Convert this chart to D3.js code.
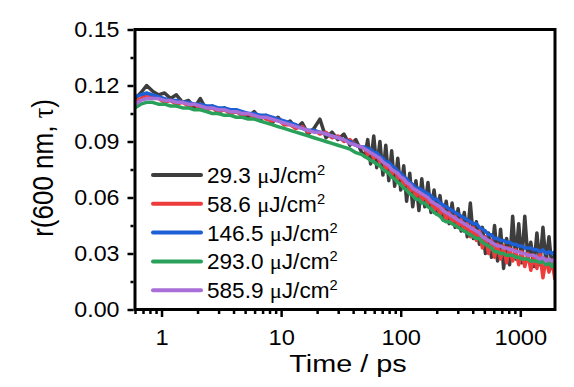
<!DOCTYPE html>
<html><head><meta charset="utf-8">
<script src="https://cdn.jsdelivr.net/npm/d3@7"></script>
<style>body{margin:0;background:#fff}svg{display:block}</style>
</head><body><svg id="c" width="574" height="387"></svg>
<script>
const times = [0.6,0.67,0.75,0.84,0.94,1.06,1.19,1.33,1.5,1.68,1.88,2.11,2.37,2.66,2.98,3.35,3.76,4.22,4.73,5.31,5.96,6.68,7.5,8.4,9.4,10.6,11.9,13.3,15,16.8,18.8,21.1,23.7,26.6,29.8,33.5,37.6,42.2,47.3,
 50,53,56,59.5,63,67,71,75,79.5,84,89,94.5,100,106,112,119,126,134,142,150,159,169,179,190,201,213,226,240,254,269,285,302,320,340,360,382,405,429,455,482,511,542,574,609,645,684,725,768,814,863,915,970,1028,1090,1155,1224,1298,1376,1458,1546,1638,1737,1841,1950];
const s29 = [0.113,0.116,0.120,0.117,0.115,0.116,0.113,0.115,0.111,0.112,0.108,0.113,0.107,0.109,0.105,0.108,0.105,0.106,0.104,0.103,0.106,0.102,0.104,0.100,0.103,0.099,0.101,0.097,0.100,0.094,0.097,0.102,0.092,0.095,0.091,0.094,0.088,0.091,0.084,
 0.082,0.091,0.078,0.093,0.076,0.090,0.072,0.088,0.069,0.085,0.066,0.081,0.064,0.077,0.058,0.073,0.055,0.069,0.053,0.070,0.055,0.068,0.052,0.064,0.051,0.061,0.048,0.058,0.046,0.057,0.044,0.054,0.042,0.052,0.039,0.057,0.038,0.047,0.035,0.044,0.030,0.041,0.028,0.045,0.026,0.043,0.022,0.038,0.024,0.050,0.027,0.046,0.025,0.050,0.028,0.036,0.023,0.041,0.024,0.044,0.025,0.039,0.022,0.030];
const s58 = [0.111,0.113,0.115,0.114,0.113,0.111,0.112,0.110,0.111,0.109,0.110,0.108,0.107,0.108,0.106,0.107,0.105,0.106,0.104,0.105,0.103,0.104,0.102,0.101,0.102,0.099,0.099,0.097,0.098,0.095,0.096,0.094,0.095,0.092,0.093,0.090,0.091,0.088,0.087,
 0.086,0.083,0.085,0.081,0.083,0.079,0.081,0.075,0.078,0.072,0.076,0.070,0.072,0.066,0.069,0.063,0.066,0.060,0.064,0.058,0.061,0.057,0.058,0.053,0.056,0.051,0.054,0.048,0.052,0.046,0.050,0.044,0.048,0.042,0.046,0.039,0.044,0.037,0.042,0.033,0.039,0.030,0.037,0.028,0.035,0.027,0.034,0.025,0.033,0.026,0.032,0.024,0.031,0.023,0.030,0.021,0.029,0.022,0.030,0.017,0.027,0.020,0.026,0.016];
const s146 = [0.114,0.115,0.116,0.115,0.114,0.113,0.112,0.112,0.111,0.111,0.110,0.110,0.109,0.109,0.108,0.108,0.107,0.107,0.106,0.105,0.105,0.104,0.104,0.103,0.102,0.101,0.100,0.099,0.097,0.096,0.096,0.095,0.094,0.093,0.092,0.091,0.090,0.088,0.087,
 0.087,0.086,0.086,0.084,0.084,0.082,0.081,0.079,0.079,0.077,0.076,0.074,0.073,0.071,0.070,0.068,0.067,0.065,0.065,0.064,0.063,0.062,0.061,0.059,0.059,0.057,0.056,0.055,0.054,0.053,0.052,0.051,0.050,0.049,0.048,0.047,0.046,0.046,0.044,0.043,0.042,0.040,0.040,0.038,0.038,0.037,0.037,0.036,0.036,0.035,0.035,0.034,0.034,0.033,0.033,0.033,0.032,0.032,0.031,0.032,0.030,0.031,0.030,0.031];
const s293 = [0.108,0.110,0.111,0.111,0.110,0.110,0.109,0.109,0.108,0.108,0.107,0.107,0.106,0.105,0.105,0.104,0.104,0.103,0.103,0.102,0.102,0.101,0.100,0.099,0.098,0.097,0.096,0.095,0.094,0.093,0.092,0.091,0.090,0.089,0.088,0.087,0.086,0.084,0.083,
 0.082,0.081,0.080,0.079,0.078,0.077,0.075,0.074,0.073,0.071,0.070,0.068,0.067,0.065,0.064,0.062,0.061,0.059,0.059,0.057,0.057,0.055,0.054,0.052,0.051,0.050,0.048,0.047,0.047,0.046,0.045,0.044,0.043,0.042,0.041,0.040,0.039,0.038,0.038,0.036,0.035,0.034,0.033,0.031,0.031,0.030,0.030,0.029,0.029,0.029,0.028,0.028,0.027,0.027,0.027,0.026,0.026,0.026,0.025,0.026,0.024,0.025,0.023,0.025];
const s585 = [0.110,0.112,0.113,0.113,0.113,0.112,0.112,0.111,0.111,0.110,0.110,0.109,0.108,0.108,0.107,0.107,0.106,0.106,0.105,0.105,0.104,0.103,0.103,0.102,0.101,0.100,0.099,0.098,0.097,0.096,0.095,0.095,0.094,0.093,0.092,0.091,0.089,0.088,0.087,
 0.086,0.085,0.084,0.083,0.082,0.081,0.079,0.078,0.077,0.075,0.074,0.073,0.071,0.070,0.068,0.067,0.065,0.064,0.063,0.062,0.061,0.060,0.058,0.057,0.056,0.055,0.053,0.052,0.051,0.050,0.049,0.048,0.047,0.046,0.045,0.044,0.043,0.042,0.041,0.039,0.038,0.037,0.036,0.035,0.034,0.034,0.033,0.033,0.032,0.032,0.031,0.031,0.030,0.030,0.029,0.029,0.029,0.028,0.027,0.028,0.026,0.027,0.026,0.027];
const legendLabels = ["29.3","58.6","146.5","293.0","585.9"];
const colors = ["#3d3d3d","#ee3b3b","#1d5fd6","#2aa15b","#a86fd8"];
const xTicks = [1,10,100,1000];
const xMinor = [0.6,0.7,0.8,0.9,2,3,4,5,6,7,8,9,20,30,40,50,60,70,80,90,200,300,400,500,600,700,800,900];
const yTicks = [0,0.03,0.06,0.09,0.12,0.15];
const yMinor = [0.015,0.045,0.075,0.105,0.135];
const seriesValues = [s29,s58,s146,s293,s585];

const svg = d3.select("#c");
const L=135,R=555,T=29.5,B=309.5;
const x = d3.scaleLog().domain([0.6,1950]).range([L,R]);
const y = d3.scaleLinear().domain([0,0.15]).range([B,T]);
const F = "'Liberation Sans', Arial, sans-serif";

svg.append("defs").append("clipPath").attr("id","clip").append("rect")
  .attr("x",L).attr("y",T).attr("width",R-L).attr("height",B-T);

const line = d3.line().x(d=>x(d[0])).y(d=>y(d[1]));
const plot = svg.append("g").attr("clip-path","url(#clip)");
seriesValues.forEach((vals,i)=>{
  plot.append("path").datum(times.map((t,j)=>[t,vals[j]]))
    .attr("d",line).attr("fill","none").attr("stroke",colors[i])
    .attr("stroke-width",3.5).attr("stroke-linejoin","round");
});

function styleAxis(g){
  g.select(".domain").remove();
  g.selectAll(".tick line").attr("stroke","#000").attr("stroke-width",2.5);
}
function stretch(g,sx){
  g.selectAll(".tick text").each(function(){
    const t=d3.select(this); const xx=+t.attr("x")||0; const yy=+t.attr("y")||0;
    t.attr("x",0).attr("y",0).attr("transform",`translate(${xx},${yy}) scale(${sx},1)`);
  });
}
const gx = svg.append("g").attr("transform",`translate(0,${B+1.5})`)
  .call(d3.axisBottom(x).tickValues(xTicks).tickFormat(d3.format("d")).tickSize(6).tickPadding(13));
styleAxis(gx);
gx.selectAll("text").attr("font-family",F).attr("font-size",21.5).attr("fill","#000");
stretch(gx,1.1);
const gxm = svg.append("g").attr("transform",`translate(0,${B+1.5})`)
  .call(d3.axisBottom(x).tickValues(xMinor).tickFormat("").tickSize(3));
styleAxis(gxm);

const gy = svg.append("g").attr("transform",`translate(${L-1.5},0)`)
  .call(d3.axisLeft(y).tickValues(yTicks).tickFormat(d3.format(".2f")).tickSize(6).tickPadding(8));
styleAxis(gy);
gy.selectAll("text").attr("font-family",F).attr("font-size",21.5).attr("fill","#000");
stretch(gy,1.08);
const gym = svg.append("g").attr("transform",`translate(${L-1.5},0)`)
  .call(d3.axisLeft(y).tickValues(yMinor).tickFormat("").tickSize(3));
styleAxis(gym);

svg.append("rect").attr("x",L).attr("y",T).attr("width",R-L).attr("height",B-T)
  .attr("fill","none").attr("stroke","#000").attr("stroke-width",3);

svg.append("text").attr("transform","translate(348,372) scale(1.2,1)")
  .attr("text-anchor","middle").attr("font-family",F).attr("font-size",24).text("Time / ps");

const yl = svg.append("text").attr("transform","translate(53,168) rotate(-90) scale(1,1.1)")
  .attr("text-anchor","middle").attr("font-family",F).attr("font-size",26);
yl.append("tspan").text("r(600 nm, ");
yl.append("tspan").attr("font-family","'Liberation Serif', serif").text("τ");
yl.append("tspan").text(")");

const leg = svg.append("g");
legendLabels.forEach((lab,i)=>{
  const yy = 175 + i*28.8;
  leg.append("line").attr("x1",153).attr("x2",201).attr("y1",yy).attr("y2",yy)
    .attr("stroke",colors[i]).attr("stroke-width",4).attr("stroke-linecap","round");
  const t = leg.append("text").attr("transform",`translate(207,${yy+8}) scale(1.05,1)`)
    .attr("font-family",F).attr("font-size",21.5);
  t.append("tspan").text(lab+" ");
  t.append("tspan").attr("font-family","'Liberation Serif', serif").text("μ");
  t.append("tspan").text("J/cm");
  t.append("tspan").attr("font-size",14).attr("dy",-8).text("2");
});
</script></body></html>
